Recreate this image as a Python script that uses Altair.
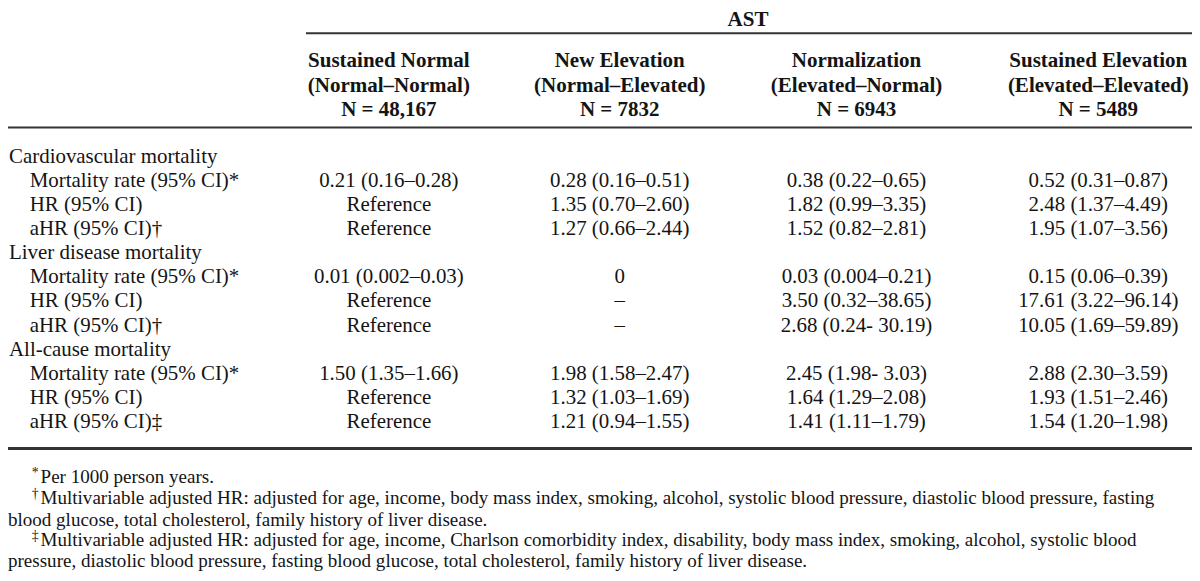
import altair as alt
import pandas as pd

# ---------------- table content ----------------
spanner_label = "AST"
group_names = ["Sustained Normal", "New Elevation", "Normalization", "Sustained Elevation"]
group_transitions = ["(Normal\u2013Normal)", "(Normal\u2013Elevated)", "(Elevated\u2013Normal)", "(Elevated\u2013Elevated)"]
group_sizes = ["N = 48,167", "N = 7832", "N = 6943", "N = 5489"]

section_labels = ["Cardiovascular mortality", "Liver disease mortality", "All-cause mortality"]
measure_labels_cv = ["Mortality rate (95% CI)*", "HR (95% CI)", "aHR (95% CI)\u2020"]
measure_labels_liver = ["Mortality rate (95% CI)*", "HR (95% CI)", "aHR (95% CI)\u2020"]
measure_labels_all = ["Mortality rate (95% CI)*", "HR (95% CI)", "aHR (95% CI)\u2021"]

values_sustained_normal = ["0.21 (0.16\u20130.28)", "Reference", "Reference",
                           "0.01 (0.002\u20130.03)", "Reference", "Reference",
                           "1.50 (1.35\u20131.66)", "Reference", "Reference"]
values_new_elevation = ["0.28 (0.16\u20130.51)", "1.35 (0.70\u20132.60)", "1.27 (0.66\u20132.44)",
                        "0", "\u2013", "\u2013",
                        "1.98 (1.58\u20132.47)", "1.32 (1.03\u20131.69)", "1.21 (0.94\u20131.55)"]
values_normalization = ["0.38 (0.22\u20130.65)", "1.82 (0.99\u20133.35)", "1.52 (0.82\u20132.81)",
                        "0.03 (0.004\u20130.21)", "3.50 (0.32\u201338.65)", "2.68 (0.24- 30.19)",
                        "2.45 (1.98- 3.03)", "1.64 (1.29\u20132.08)", "1.41 (1.11\u20131.79)"]
values_sustained_elevation = ["0.52 (0.31\u20130.87)", "2.48 (1.37\u20134.49)", "1.95 (1.07\u20133.56)",
                              "0.15 (0.06\u20130.39)", "17.61 (3.22\u201396.14)", "10.05 (1.69\u201359.89)",
                              "2.88 (2.30\u20133.59)", "1.93 (1.51\u20132.46)", "1.54 (1.20\u20131.98)"]

footnote_markers = ["*", "\u2020", "", "\u2021", ""]
footnote_lines = [
    "Per 1000 person years.",
    "Multivariable adjusted HR: adjusted for age, income, body mass index, smoking, alcohol, systolic blood pressure, diastolic blood pressure, fasting",
    "blood glucose, total cholesterol, family history of liver disease.",
    "Multivariable adjusted HR: adjusted for age, income, Charlson comorbidity index, disability, body mass index, smoking, alcohol, systolic blood",
    "pressure, diastolic blood pressure, fasting blood glucose, total cholesterol, family history of liver disease.",
]

# ---------------- layout (reference units, 1200 x 581) ----------------
REF_W, REF_H = 1200, 581
W, H = 1184, 565
S = W / REF_W
FONT = "Liberation Serif"
INK = "#141414"
RULE = "#333333"

col_centers = [386, 620, 860, 1105]
spanner_x = 750
header_rows_y = [55, 80, 105]
first_row_y, row_step = 153, 24.8
foot_y = [482, 504, 526, 547, 569]

value_columns = [values_sustained_normal, values_new_elevation,
                 values_normalization, values_sustained_elevation]
measure_blocks = [measure_labels_cv, measure_labels_liver, measure_labels_all]

labels, cells = [], []
line = 0
for s, sec in enumerate(section_labels):
    labels.append({"text": sec, "x": 1, "y": first_row_y + row_step * line})
    line += 1
    for m, meas in enumerate(measure_blocks[s]):
        y = first_row_y + row_step * line
        labels.append({"text": meas, "x": 22, "y": y})
        for c, col in enumerate(value_columns):
            cells.append({"text": col[s * 3 + m], "x": col_centers[c], "y": y})
        line += 1

header = [{"text": spanner_label, "x": spanner_x, "y": 12}]
for c in range(4):
    for r, arr in enumerate([group_names, group_transitions, group_sizes]):
        header.append({"text": arr[c], "x": col_centers[c], "y": header_rows_y[r]})

feet, marks = [], []
for i, (mk, ln) in enumerate(zip(footnote_markers, footnote_lines)):
    indent = 33 if mk else 0
    feet.append({"text": ln, "x": indent, "y": foot_y[i]})
    if mk:
        marks.append({"text": mk, "x": 31, "y": foot_y[i] - 4})

rules = pd.DataFrame([
    {"x": 302, "x2": 1200, "y": 26, "w": 2},
    {"x": 0, "x2": 1200, "y": 123, "w": 2},
    {"x": 0, "x2": 1200, "y": 453, "w": 3},
])

xs = alt.Scale(domain=[0, REF_W], nice=False, zero=False)
ys = alt.Scale(domain=[0, REF_H], nice=False, zero=False, reverse=True)


def text_layer(rows, size, align="center", weight="normal"):
    return alt.Chart(pd.DataFrame(rows)).mark_text(
        font=FONT, fontSize=size * S, align=align, baseline="middle",
        fontWeight=weight, color=INK,
    ).encode(
        x=alt.X("x:Q", scale=xs, axis=None),
        y=alt.Y("y:Q", scale=ys, axis=None),
        text="text:N",
    )


rule_layer = alt.Chart(rules).mark_rule(color=RULE).encode(
    x=alt.X("x:Q", scale=xs, axis=None),
    x2="x2:Q",
    y=alt.Y("y:Q", scale=ys, axis=None),
    strokeWidth=alt.StrokeWidth("w:Q", scale=None, legend=None),
)

chart = alt.layer(
    rule_layer,
    text_layer(header, 21.3, weight="bold"),
    text_layer(labels, 21.2, align="left"),
    text_layer(cells, 21.2),
    text_layer(feet, 19.3, align="left"),
    text_layer(marks, 14, align="right"),
).properties(
    width=W, height=H,
    autosize=alt.AutoSizeParams(type="none"),
    padding=0,
).configure_view(stroke=None)

chart.save("out.html", embed_options={"renderer": "svg", "actions": False})
